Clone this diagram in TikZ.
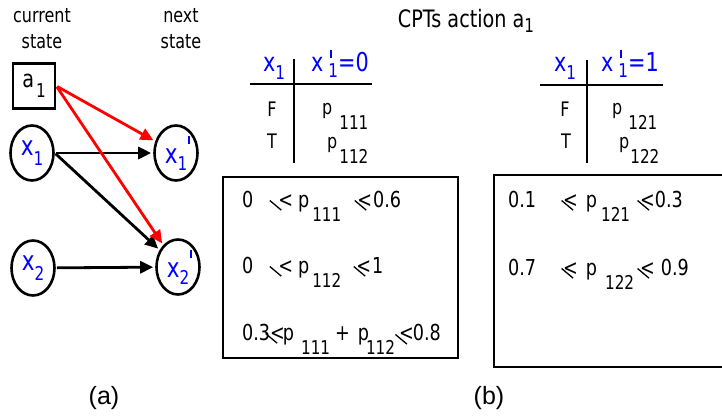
\documentclass[tikz,border=0pt]{standalone}
\usepackage{fontspec}
\setmainfont{DejaVu Sans}[FakeStretch=0.8]
\newfontfamily\capfont{Liberation Sans}
\usetikzlibrary{arrows.meta,positioning,shapes.geometric}
\definecolor{VarBlue}{RGB}{0,0,255}
\definecolor{ActRed}{RGB}{255,0,0}
\newcommand{\fsz}[1]{\fontsize{#1}{#1}\selectfont}
\newcommand{\lowsub}[2][-14pt]{\raisebox{#1}{\fsz{19}#2}}
\newcommand{\primetick}[1]{\raisebox{#1}{\rule{2pt}{8pt}}}
\newcommand{\leqmark}[2]{\rlap{\kern#1\raisebox{#2}{\rotatebox{-40}{\rule{15pt}{1.3pt}}}}<}
\tikzset{
varnode/.style={ellipse, draw, line width=2.6pt, minimum width=43pt, minimum height=55pt, inner sep=0pt, text=VarBlue, font=\fsz{27}},
actnode/.style={rectangle, draw, line width=2.6pt, minimum width=42pt, minimum height=45pt, inner sep=0pt, font=\fsz{24}},
headtext/.style={align=center, inner sep=0pt, font=\fontsize{20}{26}\selectfont},
cpthead/.style={anchor=base, inner sep=0pt, text=VarBlue, font=\fsz{26}},
cptcell/.style={anchor=base, inner sep=0pt, font=\fsz{20}},
cptrule/.style={line width=2.6pt},
boundbox/.style={draw, line width=2.6pt, inner sep=0pt},
boundtext/.style={anchor=base west, inner sep=0pt, font=\fsz{22}},
partlabel/.style={inner sep=0pt, font=\capfont\fsz{25}},
depedge/.style={-{Triangle[length=13pt,width=12pt]}, line width=2.8pt, shorten >=2pt, shorten <=1pt},
actedge/.style={depedge, draw=ActRed, fill=ActRed}
}

\begin{document}
\begin{tikzpicture}[x=1pt, y=-1pt]
  \useasboundingbox (0,0) rectangle (722,417);
  % (a) network
  \node[headtext] (curlbl) at (42,29) {current\\state};
  \node[headtext] (nxtlbl) at (181,29) {next\\state};
  \node[actnode] (a1) at (34,86) {a\hspace{2pt}\lowsub[-10pt]{1}};
  \node[varnode] (x1) at (32,153) {x\lowsub[-10pt]{1}};
  \node[varnode] (x2) at (33,268) {x\lowsub[-10pt]{2}};
  \node[varnode] (x1n) at (176,153) {x\lowsub[-7pt]{1}\rlap{\kern1pt\primetick{19pt}}\hspace{3pt}};
  \node[varnode] (x2n) at (178,267) {x\lowsub[-7pt]{2}\rlap{\kern1pt\primetick{19pt}}\hspace{3pt}};
  \draw[depedge] (x1) -- (x1n);
  \draw[depedge] (x1.east) -- (x2n);
  \draw[depedge] (x2) -- (x2n);
  \draw[actedge] (a1.east) -- (x1n);
  \draw[actedge] (a1.east) -- (x2n);
  \node[partlabel] (lbla) at (104,398) {(a)};
  % (b) CPTs
  \node[anchor=base, inner sep=0pt, font=\fsz{24}] (title) at (466,28) {CPTs action a\lowsub[-5pt]{1}};
  \node[cpthead] (t1x) at (274,72) {x\lowsub[-8pt]{1}};
  \node[cpthead] (t1y) at (340,72) {x\hspace{5pt}\rlap{\kern2pt\primetick{14pt}}\lowsub[-6pt]{1}=0};
  \coordinate (t1l) at (250,84);
  \coordinate (t1r) at (372,84);
  \coordinate (t1t) at (294,59);
  \coordinate (t1b) at (294,163);
  \draw[cptrule] (t1l) -- (t1r);
  \draw[cptrule] (t1t) -- (t1b);
  \node[cptcell] (t1f) at (272,117) {F};
  \node[cptcell] (t1tr) at (272,148) {T};
  \node[cptcell, anchor=base west] (t1p1) at (322,114) {p\hspace{7pt}\lowsub[-15pt]{111}};
  \node[cptcell, anchor=base west] (t1p2) at (327,148) {p\hspace{2pt}\lowsub[-15pt]{112}};
  \node[cpthead] (t2x) at (565,72) {x\lowsub[-8pt]{1}};
  \node[cpthead] (t2y) at (630,72) {x\hspace{5pt}\rlap{\kern2pt\primetick{14pt}}\lowsub[-6pt]{1}=1};
  \coordinate (t2l) at (540,85);
  \coordinate (t2r) at (663,85);
  \coordinate (t2t) at (587,60);
  \coordinate (t2b) at (587,163);
  \draw[cptrule] (t2l) -- (t2r);
  \draw[cptrule] (t2t) -- (t2b);
  \node[cptcell] (t2f) at (565,117) {F};
  \node[cptcell] (t2tr) at (566,148) {T};
  \node[cptcell, anchor=base west] (t2p1) at (612,114) {p\hspace{6pt}\lowsub[-15pt]{121}};
  \node[cptcell, anchor=base west] (t2p2) at (619,148) {p\hspace{1pt}\lowsub[-15pt]{122}};
  \node[boundbox, minimum width=235pt, minimum height=181pt] (bnd1) at (340.5,267.5) {};
  \node[boundtext] (b1r1) at (242,207) {0\hspace{25pt}\leqmark{-9pt}{6pt}\hspace{5pt}p\hspace{3pt}\lowsub{111}\hspace{16pt}\leqmark{-3pt}{6pt}\hspace{1pt}0.6};
  \node[boundtext] (b1r2) at (242,273) {0\hspace{25pt}\leqmark{-9pt}{6pt}\hspace{5pt}p\hspace{3pt}\lowsub{112}\hspace{15pt}\leqmark{-3pt}{6pt}\hspace{1pt}1};
  \node[boundtext] (b1r3) at (242,340) {0.3\leqmark{-5pt}{6pt}\hspace{-2pt}p\hspace{7pt}\lowsub{111}\hspace{5pt}+\hspace{8pt}p\hspace{-3pt}\lowsub{112}\hspace{4pt}\leqmark{-4pt}{5pt}\hspace{-1pt}0.8};
  \node[boundbox, minimum width=236pt, minimum height=192pt] (bnd2) at (612,271) {};
  \node[boundtext] (b2r1) at (508,207) {0.1\hspace{27pt}\leqmark{-2pt}{6pt}\hspace{8pt}p\hspace{4pt}\lowsub{121}\hspace{10pt}\leqmark{-3pt}{6pt}0.3};
  \node[boundtext] (b2r2) at (508,275) {0.7\hspace{27pt}\leqmark{-2pt}{6pt}\hspace{8pt}p\hspace{8pt}\lowsub{122}\hspace{6pt}\leqmark{-3pt}{6pt}\hspace{6pt}0.9};
  \node[partlabel] (lblb) at (489,398) {(b)};
\end{tikzpicture}
\end{document}
